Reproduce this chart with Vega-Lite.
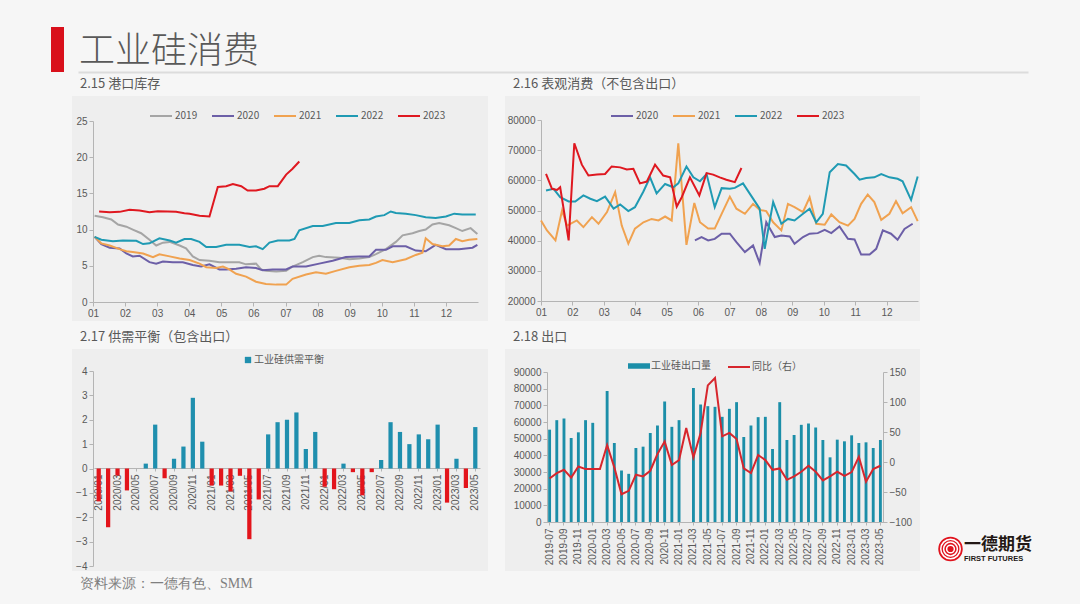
{
  "$schema": "https://vega.github.io/schema/vega-lite/v6.json",
  "background": "#f6f6f6",
  "padding": {"left": 51, "top": 27, "right": 47, "bottom": 12},
  "autosize": {"type": "pad"},
  "config": {
    "view": {"stroke": null},
    "font": "Noto Sans CJK SC",
    "axis": {"labelFont": "Liberation Sans", "labelFontSize": 10, "labelColor": "#595959", "domainColor": "#b4b4b4", "tickColor": "#b4b4b4", "grid": false, "tickSize": 4, "labelPadding": 2, "labelFlush": false},
    "legend": {"labelFont": "Noto Sans CJK SC", "labelFontSize": 10, "labelColor": "#595959"},
    "title": {"font": "Noto Sans CJK SC", "fontWeight": "normal", "color": "#595959", "anchor": "start"}
  },
  "datasets": {
    "port": [
      {"yr":"2019","m":1.05,"v":11.9},{"yr":"2019","m":1.31,"v":11.7},{"yr":"2019","m":1.57,"v":11.4},{"yr":"2019","m":1.78,"v":10.7},{"yr":"2019","m":2.04,"v":10.4},{"yr":"2019","m":2.24,"v":10.0},{"yr":"2019","m":2.5,"v":9.5},{"yr":"2019","m":2.76,"v":8.6},{"yr":"2019","m":2.97,"v":7.8},{"yr":"2019","m":3.18,"v":8.2},{"yr":"2019","m":3.39,"v":8.3},{"yr":"2019","m":3.7,"v":7.8},{"yr":"2019","m":3.9,"v":7.4},{"yr":"2019","m":4.11,"v":6.3},{"yr":"2019","m":4.32,"v":5.8},{"yr":"2019","m":4.63,"v":5.7},{"yr":"2019","m":4.94,"v":5.5},{"yr":"2019","m":5.25,"v":5.5},{"yr":"2019","m":5.56,"v":5.5},{"yr":"2019","m":5.77,"v":5.2},{"yr":"2019","m":6.08,"v":5.3},{"yr":"2019","m":6.24,"v":4.5},{"yr":"2019","m":6.39,"v":4.3},{"yr":"2019","m":6.71,"v":4.2},{"yr":"2019","m":7.02,"v":4.3},{"yr":"2019","m":7.22,"v":4.9},{"yr":"2019","m":7.54,"v":5.5},{"yr":"2019","m":7.85,"v":6.2},{"yr":"2019","m":8.05,"v":6.4},{"yr":"2019","m":8.26,"v":6.2},{"yr":"2019","m":8.68,"v":6.1},{"yr":"2019","m":8.99,"v":5.9},{"yr":"2019","m":9.3,"v":6.0},{"yr":"2019","m":9.61,"v":6.2},{"yr":"2019","m":9.82,"v":6.6},{"yr":"2019","m":10.13,"v":7.3},{"yr":"2019","m":10.44,"v":8.3},{"yr":"2019","m":10.65,"v":9.2},{"yr":"2019","m":10.96,"v":9.5},{"yr":"2019","m":11.17,"v":9.8},{"yr":"2019","m":11.37,"v":10.0},{"yr":"2019","m":11.58,"v":10.7},{"yr":"2019","m":11.79,"v":10.9},{"yr":"2019","m":12.1,"v":10.6},{"yr":"2019","m":12.31,"v":10.2},{"yr":"2019","m":12.51,"v":9.8},{"yr":"2019","m":12.77,"v":10.2},{"yr":"2019","m":12.98,"v":9.4},
      {"yr":"2020","m":1.05,"v":9.0},{"yr":"2020","m":1.26,"v":8.0},{"yr":"2020","m":1.52,"v":7.5},{"yr":"2020","m":1.83,"v":7.4},{"yr":"2020","m":2.04,"v":6.7},{"yr":"2020","m":2.24,"v":6.3},{"yr":"2020","m":2.45,"v":6.4},{"yr":"2020","m":2.76,"v":5.5},{"yr":"2020","m":2.97,"v":5.3},{"yr":"2020","m":3.18,"v":5.6},{"yr":"2020","m":3.49,"v":5.5},{"yr":"2020","m":3.8,"v":5.5},{"yr":"2020","m":4.11,"v":5.1},{"yr":"2020","m":4.37,"v":4.9},{"yr":"2020","m":4.63,"v":5.2},{"yr":"2020","m":4.94,"v":4.5},{"yr":"2020","m":5.15,"v":4.5},{"yr":"2020","m":5.46,"v":4.6},{"yr":"2020","m":5.77,"v":4.8},{"yr":"2020","m":6.08,"v":4.7},{"yr":"2020","m":6.29,"v":4.4},{"yr":"2020","m":6.6,"v":4.5},{"yr":"2020","m":7.02,"v":4.5},{"yr":"2020","m":7.22,"v":4.9},{"yr":"2020","m":7.64,"v":4.9},{"yr":"2020","m":8.05,"v":5.3},{"yr":"2020","m":8.47,"v":5.7},{"yr":"2020","m":8.88,"v":6.2},{"yr":"2020","m":9.3,"v":6.3},{"yr":"2020","m":9.61,"v":6.3},{"yr":"2020","m":9.82,"v":7.2},{"yr":"2020","m":10.13,"v":7.2},{"yr":"2020","m":10.34,"v":7.7},{"yr":"2020","m":10.75,"v":7.7},{"yr":"2020","m":11.06,"v":7.1},{"yr":"2020","m":11.37,"v":7.0},{"yr":"2020","m":11.68,"v":7.9},{"yr":"2020","m":12.0,"v":7.3},{"yr":"2020","m":12.41,"v":7.3},{"yr":"2020","m":12.83,"v":7.5},{"yr":"2020","m":12.98,"v":7.9},
      {"yr":"2021","m":1.05,"v":9.0},{"yr":"2021","m":1.26,"v":8.1},{"yr":"2021","m":1.52,"v":7.8},{"yr":"2021","m":1.83,"v":7.3},{"yr":"2021","m":2.04,"v":7.0},{"yr":"2021","m":2.24,"v":6.9},{"yr":"2021","m":2.56,"v":6.7},{"yr":"2021","m":2.87,"v":6.2},{"yr":"2021","m":3.07,"v":6.6},{"yr":"2021","m":3.39,"v":6.3},{"yr":"2021","m":3.7,"v":6.0},{"yr":"2021","m":4.01,"v":5.8},{"yr":"2021","m":4.32,"v":5.3},{"yr":"2021","m":4.53,"v":4.8},{"yr":"2021","m":4.84,"v":4.7},{"yr":"2021","m":5.05,"v":4.9},{"yr":"2021","m":5.25,"v":4.5},{"yr":"2021","m":5.46,"v":3.9},{"yr":"2021","m":5.77,"v":3.5},{"yr":"2021","m":6.08,"v":2.8},{"yr":"2021","m":6.39,"v":2.5},{"yr":"2021","m":6.71,"v":2.4},{"yr":"2021","m":7.02,"v":2.4},{"yr":"2021","m":7.22,"v":3.2},{"yr":"2021","m":7.64,"v":3.8},{"yr":"2021","m":7.95,"v":4.1},{"yr":"2021","m":8.26,"v":3.9},{"yr":"2021","m":8.57,"v":4.3},{"yr":"2021","m":8.99,"v":4.8},{"yr":"2021","m":9.3,"v":5.0},{"yr":"2021","m":9.61,"v":5.1},{"yr":"2021","m":9.82,"v":5.4},{"yr":"2021","m":10.02,"v":5.8},{"yr":"2021","m":10.34,"v":5.5},{"yr":"2021","m":10.75,"v":5.9},{"yr":"2021","m":11.06,"v":6.5},{"yr":"2021","m":11.27,"v":6.8},{"yr":"2021","m":11.37,"v":8.8},{"yr":"2021","m":11.58,"v":8.0},{"yr":"2021","m":11.89,"v":7.7},{"yr":"2021","m":12.1,"v":7.8},{"yr":"2021","m":12.31,"v":8.7},{"yr":"2021","m":12.51,"v":8.4},{"yr":"2021","m":12.72,"v":8.6},{"yr":"2021","m":12.98,"v":8.7},
      {"yr":"2022","m":1.05,"v":9.0},{"yr":"2022","m":1.26,"v":8.6},{"yr":"2022","m":1.62,"v":8.4},{"yr":"2022","m":1.93,"v":8.5},{"yr":"2022","m":2.35,"v":8.45},{"yr":"2022","m":2.56,"v":8.0},{"yr":"2022","m":2.76,"v":8.1},{"yr":"2022","m":3.07,"v":8.8},{"yr":"2022","m":3.39,"v":8.5},{"yr":"2022","m":3.59,"v":8.2},{"yr":"2022","m":3.85,"v":8.7},{"yr":"2022","m":4.06,"v":8.7},{"yr":"2022","m":4.32,"v":8.3},{"yr":"2022","m":4.53,"v":7.6},{"yr":"2022","m":4.84,"v":7.6},{"yr":"2022","m":5.15,"v":7.9},{"yr":"2022","m":5.56,"v":7.9},{"yr":"2022","m":5.88,"v":7.6},{"yr":"2022","m":6.08,"v":7.7},{"yr":"2022","m":6.29,"v":7.3},{"yr":"2022","m":6.5,"v":8.2},{"yr":"2022","m":6.76,"v":8.5},{"yr":"2022","m":7.12,"v":8.5},{"yr":"2022","m":7.28,"v":8.7},{"yr":"2022","m":7.43,"v":9.9},{"yr":"2022","m":7.85,"v":10.5},{"yr":"2022","m":8.16,"v":10.5},{"yr":"2022","m":8.57,"v":10.9},{"yr":"2022","m":8.99,"v":10.9},{"yr":"2022","m":9.3,"v":11.3},{"yr":"2022","m":9.61,"v":11.4},{"yr":"2022","m":9.82,"v":11.8},{"yr":"2022","m":10.08,"v":12.0},{"yr":"2022","m":10.28,"v":12.5},{"yr":"2022","m":10.44,"v":12.3},{"yr":"2022","m":10.75,"v":12.2},{"yr":"2022","m":11.06,"v":12.0},{"yr":"2022","m":11.37,"v":11.7},{"yr":"2022","m":11.68,"v":11.6},{"yr":"2022","m":12.0,"v":11.8},{"yr":"2022","m":12.26,"v":12.2},{"yr":"2022","m":12.51,"v":12.1},{"yr":"2022","m":12.93,"v":12.1},
      {"yr":"2023","m":1.19,"v":12.5},{"yr":"2023","m":1.52,"v":12.4},{"yr":"2023","m":1.83,"v":12.45},{"yr":"2023","m":2.14,"v":12.75},{"yr":"2023","m":2.45,"v":12.65},{"yr":"2023","m":2.76,"v":12.4},{"yr":"2023","m":3.02,"v":12.55},{"yr":"2023","m":3.33,"v":12.5},{"yr":"2023","m":3.59,"v":12.45},{"yr":"2023","m":3.85,"v":12.25},{"yr":"2023","m":4.01,"v":12.2},{"yr":"2023","m":4.32,"v":11.9},{"yr":"2023","m":4.63,"v":11.8},{"yr":"2023","m":4.89,"v":15.9},{"yr":"2023","m":5.15,"v":16.0},{"yr":"2023","m":5.36,"v":16.3},{"yr":"2023","m":5.62,"v":16.0},{"yr":"2023","m":5.82,"v":15.4},{"yr":"2023","m":6.08,"v":15.4},{"yr":"2023","m":6.34,"v":15.65},{"yr":"2023","m":6.5,"v":16.0},{"yr":"2023","m":6.76,"v":16.0},{"yr":"2023","m":7.02,"v":17.6},{"yr":"2023","m":7.22,"v":18.4},{"yr":"2023","m":7.43,"v":19.4}
    ],
    "cons": [
      {"yr":"2020","m":5.9,"v":40100},{"yr":"2020","m":6.11,"v":41200},{"yr":"2020","m":6.32,"v":40100},{"yr":"2020","m":6.53,"v":40600},{"yr":"2020","m":6.75,"v":42300},{"yr":"2020","m":7.01,"v":42300},{"yr":"2020","m":7.22,"v":39500},{"yr":"2020","m":7.49,"v":36200},{"yr":"2020","m":7.75,"v":38400},{"yr":"2020","m":7.96,"v":32600},{"yr":"2020","m":8.17,"v":46100},{"yr":"2020","m":8.44,"v":41200},{"yr":"2020","m":8.65,"v":41700},{"yr":"2020","m":8.92,"v":41400},{"yr":"2020","m":9.07,"v":39000},{"yr":"2020","m":9.34,"v":41200},{"yr":"2020","m":9.55,"v":42300},{"yr":"2020","m":9.81,"v":42500},{"yr":"2020","m":10.03,"v":43600},{"yr":"2020","m":10.24,"v":42500},{"yr":"2020","m":10.5,"v":44700},{"yr":"2020","m":10.77,"v":40600},{"yr":"2020","m":10.98,"v":40400},{"yr":"2020","m":11.19,"v":35400},{"yr":"2020","m":11.46,"v":35400},{"yr":"2020","m":11.67,"v":37300},{"yr":"2020","m":11.88,"v":43400},{"yr":"2020","m":12.14,"v":42300},{"yr":"2020","m":12.35,"v":40300},{"yr":"2020","m":12.57,"v":43900},{"yr":"2020","m":12.83,"v":45600},
      {"yr":"2021","m":1.0,"v":46700},{"yr":"2021","m":1.19,"v":43400},{"yr":"2021","m":1.46,"v":40100},{"yr":"2021","m":1.67,"v":50000},{"yr":"2021","m":1.83,"v":45000},{"yr":"2021","m":2.14,"v":46700},{"yr":"2021","m":2.35,"v":44500},{"yr":"2021","m":2.62,"v":47800},{"yr":"2021","m":2.83,"v":45600},{"yr":"2021","m":3.1,"v":49500},{"yr":"2021","m":3.36,"v":56100},{"yr":"2021","m":3.57,"v":45000},{"yr":"2021","m":3.78,"v":39000},{"yr":"2021","m":3.99,"v":44000},{"yr":"2021","m":4.26,"v":46100},{"yr":"2021","m":4.52,"v":47200},{"yr":"2021","m":4.74,"v":46700},{"yr":"2021","m":4.95,"v":48000},{"yr":"2021","m":5.16,"v":46700},{"yr":"2021","m":5.37,"v":72300},{"yr":"2021","m":5.63,"v":38600},{"yr":"2021","m":5.88,"v":52500},{"yr":"2021","m":6.06,"v":46100},{"yr":"2021","m":6.32,"v":44000},{"yr":"2021","m":6.53,"v":44000},{"yr":"2021","m":6.75,"v":48900},{"yr":"2021","m":7.01,"v":54600},{"yr":"2021","m":7.22,"v":50600},{"yr":"2021","m":7.49,"v":48900},{"yr":"2021","m":7.75,"v":52200},{"yr":"2021","m":7.96,"v":50200},{"yr":"2021","m":8.17,"v":49800},{"yr":"2021","m":8.39,"v":46100},{"yr":"2021","m":8.65,"v":43400},{"yr":"2021","m":8.86,"v":52200},{"yr":"2021","m":9.07,"v":51100},{"yr":"2021","m":9.34,"v":49500},{"yr":"2021","m":9.55,"v":54400},{"yr":"2021","m":9.76,"v":45600},{"yr":"2021","m":10.03,"v":45300},{"yr":"2021","m":10.24,"v":48700},{"yr":"2021","m":10.5,"v":46100},{"yr":"2021","m":10.77,"v":45000},{"yr":"2021","m":10.98,"v":47200},{"yr":"2021","m":11.19,"v":52200},{"yr":"2021","m":11.4,"v":55300},{"yr":"2021","m":11.61,"v":52800},{"yr":"2021","m":11.83,"v":46900},{"yr":"2021","m":12.09,"v":48900},{"yr":"2021","m":12.3,"v":53100},{"yr":"2021","m":12.51,"v":49100},{"yr":"2021","m":12.78,"v":51100},{"yr":"2021","m":12.99,"v":46500},
      {"yr":"2022","m":1.16,"v":56600},{"yr":"2022","m":1.4,"v":57200},{"yr":"2022","m":1.61,"v":54400},{"yr":"2022","m":1.88,"v":53000},{"yr":"2022","m":2.09,"v":53000},{"yr":"2022","m":2.35,"v":55000},{"yr":"2022","m":2.57,"v":53900},{"yr":"2022","m":2.78,"v":53100},{"yr":"2022","m":3.04,"v":54600},{"yr":"2022","m":3.31,"v":50600},{"yr":"2022","m":3.52,"v":52000},{"yr":"2022","m":3.78,"v":49800},{"yr":"2022","m":3.99,"v":51100},{"yr":"2022","m":4.26,"v":56300},{"yr":"2022","m":4.47,"v":61000},{"yr":"2022","m":4.68,"v":55700},{"yr":"2022","m":4.95,"v":58800},{"yr":"2022","m":5.21,"v":57700},{"yr":"2022","m":5.37,"v":59000},{"yr":"2022","m":5.63,"v":64600},{"yr":"2022","m":5.85,"v":61000},{"yr":"2022","m":6.06,"v":59700},{"yr":"2022","m":6.27,"v":62100},{"yr":"2022","m":6.53,"v":51100},{"yr":"2022","m":6.75,"v":57400},{"yr":"2022","m":7.01,"v":57200},{"yr":"2022","m":7.17,"v":57500},{"yr":"2022","m":7.43,"v":59000},{"yr":"2022","m":7.65,"v":55500},{"yr":"2022","m":7.86,"v":52200},{"yr":"2022","m":7.96,"v":50600},{"yr":"2022","m":8.12,"v":37300},{"yr":"2022","m":8.39,"v":52800},{"yr":"2022","m":8.65,"v":45600},{"yr":"2022","m":8.86,"v":47200},{"yr":"2022","m":9.07,"v":46700},{"yr":"2022","m":9.34,"v":48900},{"yr":"2022","m":9.55,"v":50600},{"yr":"2022","m":9.76,"v":46100},{"yr":"2022","m":9.97,"v":48900},{"yr":"2022","m":10.19,"v":62700},{"yr":"2022","m":10.45,"v":65400},{"yr":"2022","m":10.71,"v":64900},{"yr":"2022","m":10.98,"v":62100},{"yr":"2022","m":11.14,"v":60200},{"yr":"2022","m":11.35,"v":60800},{"yr":"2022","m":11.61,"v":61000},{"yr":"2022","m":11.83,"v":62100},{"yr":"2022","m":12.09,"v":61000},{"yr":"2022","m":12.35,"v":60500},{"yr":"2022","m":12.51,"v":59700},{"yr":"2022","m":12.78,"v":53500},{"yr":"2022","m":12.99,"v":61300},
      {"yr":"2023","m":1.16,"v":62100},{"yr":"2023","m":1.35,"v":57200},{"yr":"2023","m":1.51,"v":56800},{"yr":"2023","m":1.61,"v":57700},{"yr":"2023","m":1.88,"v":40100},{"yr":"2023","m":2.06,"v":72300},{"yr":"2023","m":2.3,"v":65200},{"yr":"2023","m":2.51,"v":61600},{"yr":"2023","m":2.78,"v":61900},{"yr":"2023","m":3.04,"v":62100},{"yr":"2023","m":3.25,"v":64600},{"yr":"2023","m":3.52,"v":64300},{"yr":"2023","m":3.73,"v":63600},{"yr":"2023","m":3.94,"v":63800},{"yr":"2023","m":4.15,"v":59000},{"yr":"2023","m":4.37,"v":59600},{"yr":"2023","m":4.63,"v":65200},{"yr":"2023","m":4.89,"v":61600},{"yr":"2023","m":5.11,"v":61000},{"yr":"2023","m":5.32,"v":51300},{"yr":"2023","m":5.48,"v":54400},{"yr":"2023","m":5.74,"v":61000},{"yr":"2023","m":6.04,"v":55000},{"yr":"2023","m":6.27,"v":62400},{"yr":"2023","m":6.48,"v":61900},{"yr":"2023","m":6.69,"v":61000},{"yr":"2023","m":6.9,"v":60200},{"yr":"2023","m":7.17,"v":59400},{"yr":"2023","m":7.38,"v":64100}
    ],
    "balance": [
      {"mon":"2020/01","v":-1.35},{"mon":"2020/02","v":-2.41},{"mon":"2020/03","v":-0.29},{"mon":"2020/04","v":-0.9},{"mon":"2020/05","v":0},{"mon":"2020/06","v":0.2},{"mon":"2020/07","v":1.8},{"mon":"2020/08","v":-0.4},{"mon":"2020/09","v":0.4},{"mon":"2020/10","v":0.9},{"mon":"2020/11","v":2.9},{"mon":"2020/12","v":1.1},
      {"mon":"2021/01","v":-0.7},{"mon":"2021/02","v":-0.7},{"mon":"2021/03","v":-0.94},{"mon":"2021/04","v":-0.3},{"mon":"2021/05","v":-2.9},{"mon":"2021/06","v":-1.27},{"mon":"2021/07","v":1.4},{"mon":"2021/08","v":1.9},{"mon":"2021/09","v":2.0},{"mon":"2021/10","v":2.3},{"mon":"2021/11","v":0.8},{"mon":"2021/12","v":1.5},
      {"mon":"2022/01","v":-0.75},{"mon":"2022/02","v":-0.85},{"mon":"2022/03","v":0.2},{"mon":"2022/04","v":-0.15},{"mon":"2022/05","v":-1.1},{"mon":"2022/06","v":-0.15},{"mon":"2022/07","v":0.35},{"mon":"2022/08","v":1.9},{"mon":"2022/09","v":1.5},{"mon":"2022/10","v":1.0},{"mon":"2022/11","v":1.4},{"mon":"2022/12","v":1.2},
      {"mon":"2023/01","v":1.8},{"mon":"2023/02","v":-1.4},{"mon":"2023/03","v":0.4},{"mon":"2023/04","v":-0.8},{"mon":"2023/05","v":1.7}
    ],
    "export": [
      {"mon":"2019-07","q":55400,"yoy":-27.5},{"mon":"2019-08","q":61100,"yoy":-18.5},{"mon":"2019-09","q":62100,"yoy":-13},{"mon":"2019-10","q":50400,"yoy":-26},{"mon":"2019-11","q":53800,"yoy":-7.4},{"mon":"2019-12","q":61100,"yoy":-11.8},
      {"mon":"2020-01","q":59500,"yoy":-11.8},{"mon":"2020-02","q":null,"yoy":-11.8},{"mon":"2020-03","q":78600,"yoy":28.3},{"mon":"2020-04","q":47400,"yoy":-9},{"mon":"2020-05","q":30900,"yoy":-53.7},{"mon":"2020-06","q":28900,"yoy":-48},{"mon":"2020-07","q":44400,"yoy":-21.3},{"mon":"2020-08","q":45200,"yoy":-24},{"mon":"2020-09","q":53400,"yoy":-14.6},{"mon":"2020-10","q":57900,"yoy":13.3},{"mon":"2020-11","q":72300,"yoy":34},{"mon":"2020-12","q":57100,"yoy":-5},
      {"mon":"2021-01","q":61100,"yoy":3.2},{"mon":"2021-02","q":null,"yoy":56.8},{"mon":"2021-03","q":80400,"yoy":7.7},{"mon":"2021-04","q":70500,"yoy":48.4},{"mon":"2021-05","q":69500,"yoy":127.7},{"mon":"2021-06","q":69100,"yoy":140},{"mon":"2021-07","q":63100,"yoy":42.8},{"mon":"2021-08","q":67900,"yoy":48.4},{"mon":"2021-09","q":71900,"yoy":38.4},{"mon":"2021-10","q":51000,"yoy":-10.7},{"mon":"2021-11","q":57900,"yoy":-18.5},{"mon":"2021-12","q":62900,"yoy":11.6},
      {"mon":"2022-01","q":63100,"yoy":3.2},{"mon":"2022-02","q":43800,"yoy":-13},{"mon":"2022-03","q":71900,"yoy":-10.7},{"mon":"2022-04","q":49200,"yoy":-29.7},{"mon":"2022-05","q":52200,"yoy":-24},{"mon":"2022-06","q":58300,"yoy":-16.3},{"mon":"2022-07","q":59100,"yoy":-6.3},{"mon":"2022-08","q":56700,"yoy":-16.3},{"mon":"2022-09","q":49200,"yoy":-30.8},{"mon":"2022-10","q":38800,"yoy":-24},{"mon":"2022-11","q":49400,"yoy":-16.3},{"mon":"2022-12","q":48400,"yoy":-23},
      {"mon":"2023-01","q":52000,"yoy":-16.8},{"mon":"2023-02","q":47400,"yoy":8.8},{"mon":"2023-03","q":47800,"yoy":-33},{"mon":"2023-04","q":44400,"yoy":-11.8},{"mon":"2023-05","q":49200,"yoy":-6.3}
    ]
  },
  "spacing": 6,
  "resolve": {"scale": {"color": "independent", "fill": "independent", "stroke": "independent"}, "legend": {"color": "independent", "fill": "independent", "stroke": "independent"}},
  "vconcat": [
    {
      "spacing": 14,
      "hconcat": [
        {"width": 13, "height": 45, "data": {"values": []}, "mark": "point", "view": {"fill": "#d9101b", "stroke": null}},
        {"width": 950, "height": 45, "data": {"values": []}, "mark": "point",
         "encoding": {"x": {"field": "k", "type": "quantitative", "scale": {"domain": [0, 1]},
                            "axis": {"title": null, "labels": false, "ticks": false, "domainColor": "#dcdcdc", "domainWidth": 2}}},
         "title": {"text": "工业硅消费", "anchor": "start", "fontSize": 36, "fontWeight": 300, "color": "#595959", "offset": -44, "dx": 1}}
      ]
    },
    {
      "spacing": 10,
      "resolve": {"scale": {"color": "independent", "fill": "independent", "stroke": "independent"}, "legend": {"color": "independent", "fill": "independent", "stroke": "independent"}},
      "vconcat": [
        {
          "spacing": 17,
          "resolve": {"scale": {"color": "independent"}, "legend": {"color": "independent"}},
          "hconcat": [
            {"width": 4, "height": 1, "data": {"values": []}, "mark": "point"},
            {
              "width": 416, "height": 225,
              "view": {"fill": "#eeeeee"},
              "title": {"text": "2.15 港口库存", "fontSize": 13, "dx": 8, "offset": 5},
              "data": {"name": "port"},
              "mark": {"type": "line", "strokeWidth": 2},
              "encoding": {
                "x": {"field": "m", "type": "quantitative",
                      "scale": {"domain": [1, 13], "range": [21, 406], "nice": false, "zero": false},
                      "axis": {"title": null, "values": [1,2,3,4,5,6,7,8,9,10,11,12], "labelExpr": "datum.value < 10 ? '0' + datum.value : '' + datum.value", "offset": -19}},
                "y": {"field": "v", "type": "quantitative",
                      "scale": {"domain": [0, 25], "range": [206, 25], "nice": false},
                      "axis": {"title": null, "values": [0,5,10,15,20,25], "offset": -21}},
                "color": {"field": "yr", "type": "nominal",
                          "scale": {"domain": ["2019","2020","2021","2022","2023"], "range": ["#a5a5a5","#6c5fa7","#f0a250","#1f9ab3","#df1820"]},
                          "legend": {"title": null, "orient": "none", "direction": "horizontal", "legendX": 77, "legendY": 8, "symbolType": "stroke", "symbolSize": 484, "symbolStrokeWidth": 2, "labelOffset": 2, "columnPadding": 10}}
              }
            },
            {
              "width": 415, "height": 225,
              "view": {"fill": "#eeeeee"},
              "title": {"text": "2.16 表观消费（不包含出口）", "fontSize": 13, "dx": 8, "offset": 5},
              "data": {"name": "cons"},
              "mark": {"type": "line", "strokeWidth": 2},
              "encoding": {
                "x": {"field": "m", "type": "quantitative",
                      "scale": {"domain": [1, 13], "range": [36, 413], "nice": false, "zero": false},
                      "axis": {"title": null, "values": [1,2,3,4,5,6,7,8,9,10,11,12], "labelExpr": "datum.value < 10 ? '0' + datum.value : '' + datum.value", "offset": -20}},
                "y": {"field": "v", "type": "quantitative",
                      "scale": {"domain": [20000, 80000], "range": [205, 24], "nice": false, "zero": false},
                      "axis": {"title": null, "values": [20000,30000,40000,50000,60000,70000,80000], "format": "d", "offset": -36}},
                "color": {"field": "yr", "type": "nominal",
                          "scale": {"domain": ["2020","2021","2022","2023"], "range": ["#6c5fa7","#f0a250","#1f9ab3","#df1820"]},
                          "legend": {"title": null, "orient": "none", "direction": "horizontal", "legendX": 105, "legendY": 8, "symbolType": "stroke", "symbolSize": 484, "symbolStrokeWidth": 2, "labelOffset": 2, "columnPadding": 10}}
              }
            }
          ]
        },
        {
          "spacing": 17,
          "resolve": {"scale": {"color": "independent", "fill": "independent", "stroke": "independent"}, "legend": {"color": "independent", "fill": "independent", "stroke": "independent"}},
          "hconcat": [
            {"width": 4, "height": 1, "data": {"values": []}, "mark": "point"},
            {
              "width": 416, "height": 222,
              "view": {"fill": "#eeeeee"},
              "title": {"text": "2.17 供需平衡（包含出口）", "fontSize": 13, "dx": 8, "offset": 5},
              "data": {"name": "balance"},
              "mark": {"type": "bar"},
              "encoding": {
                "x": {"field": "mon", "type": "ordinal", "sort": "ascending",
                      "scale": {"range": [22, 408], "paddingInner": 0.55, "paddingOuter": 0.275},
                      "axis": {"title": null, "labelAngle": -90, "labelOverlap": false, "offset": -103, "tickSize": 3, "labelPadding": 3,
                               "values": ["2020/01","2020/03","2020/05","2020/07","2020/09","2020/11","2021/01","2021/03","2021/05","2021/07","2021/09","2021/11","2022/01","2022/03","2022/05","2022/07","2022/09","2022/11","2023/01","2023/03","2023/05"]}},
                "y": {"field": "v", "type": "quantitative",
                      "scale": {"domain": [-4, 4], "range": [217, 22], "nice": false, "zero": false},
                      "axis": {"title": null, "values": [-4,-3,-2,-1,0,1,2,3,4], "offset": -21}},
                "color": {"condition": {"test": "datum.v < 0", "value": "#e3141b"},
                          "datum": "工业硅供需平衡", "type": "nominal",
                          "scale": {"range": ["#1f8fae"]},
                          "legend": {"title": null, "orient": "none", "legendX": 171, "legendY": 6, "symbolType": "square", "symbolSize": 40, "labelOffset": 1}}
              }
            },
            {
              "width": 415, "height": 222,
              "view": {"fill": "#eeeeee"},
              "title": {"text": "2.18 出口", "fontSize": 13, "dx": 8, "offset": 5},
              "data": {"name": "export"},
              "encoding": {
                "x": {"field": "mon", "type": "ordinal", "sort": "ascending",
                      "scale": {"range": [41, 379], "paddingInner": 0.6, "paddingOuter": 0.3},
                      "axis": {"title": null, "labelAngle": -90, "labelOverlap": false, "offset": -49, "tickSize": 3, "labelPadding": 3,
                               "values": ["2019-07","2019-09","2019-11","2020-01","2020-03","2020-05","2020-07","2020-09","2020-11","2021-01","2021-03","2021-05","2021-07","2021-09","2021-11","2022-01","2022-03","2022-05","2022-07","2022-09","2022-11","2023-01","2023-03","2023-05"]}}
              },
              "layer": [
                {
                  "mark": {"type": "bar"},
                  "encoding": {
                    "y": {"field": "q", "type": "quantitative",
                          "scale": {"domain": [0, 90000], "range": [173, 23], "nice": false},
                          "axis": {"title": null, "orient": "left", "values": [0,10000,20000,30000,40000,50000,60000,70000,80000,90000], "format": "d", "offset": -42}},
                    "fill": {"datum": "工业硅出口量", "type": "nominal", "scale": {"range": ["#1b8ea8"]},
                             "legend": {"title": null, "orient": "none", "legendX": 123, "legendY": 6, "symbolType": "M-1,-0.25L1,-0.25L1,0.25L-1,0.25Z", "symbolSize": 484, "symbolStrokeWidth": 0, "labelOffset": 1}}
                  }
                },
                {
                  "mark": {"type": "line", "strokeWidth": 2},
                  "encoding": {
                    "y": {"field": "yoy", "type": "quantitative",
                          "scale": {"domain": [-100, 150], "range": [173, 23], "nice": false, "zero": false},
                          "axis": {"title": null, "orient": "right", "values": [-100,-50,0,50,100,150], "offset": -37}},
                    "stroke": {"datum": "同比（右）", "type": "nominal", "scale": {"range": ["#d7262d"]},
                               "legend": {"title": null, "orient": "none", "legendX": 222, "legendY": 6, "symbolType": "stroke", "symbolSize": 484, "symbolStrokeWidth": 2, "labelOffset": 1}}
                  }
                }
              ],
              "resolve": {"scale": {"y": "independent"}}
            },
            {
              "spacing": 0,
              "vconcat": [
                {"width": 97, "height": 187, "data": {"values": []}, "mark": "point"},
                {
                  "spacing": 0,
                  "hconcat": [
                    {"width": 25, "height": 26, "data": {"values": [{"k": "logo"}]},
                     "layer": [
                       {"mark": {"type": "point", "shape": "circle", "size": 600, "filled": true, "color": "#e0141e", "opacity": 1}, "encoding": {}},
                       {"mark": {"type": "point", "shape": "circle", "size": 380, "filled": false, "stroke": "#ffffff", "strokeWidth": 1.5, "opacity": 1}, "encoding": {}},
                       {"mark": {"type": "point", "shape": "circle", "size": 190, "filled": false, "stroke": "#ffffff", "strokeWidth": 1.5, "opacity": 1}, "encoding": {}},
                       {"mark": {"type": "point", "shape": "circle", "size": 60, "filled": false, "stroke": "#ffffff", "strokeWidth": 1.5, "opacity": 1}, "encoding": {}}
                     ]},
                    {"width": 70, "height": 1, "data": {"values": []}, "mark": "point",
                     "title": {"text": "一德期货", "subtitle": "FIRST FUTURES", "orient": "bottom", "anchor": "start", "fontSize": 17, "fontWeight": "bold", "color": "#231815", "subtitleFont": "Liberation Sans", "subtitleFontSize": 7.5, "subtitleFontWeight": "bold", "subtitleColor": "#231815", "subtitlePadding": 1, "offset": 0}}
                  ]
                }
              ]
            }
          ]
        }
      ]
    },
    {"width": 300, "height": 1, "data": {"values": []}, "mark": "point",
     "title": {"text": "资料来源：一德有色、SMM", "anchor": "start", "dx": 29, "fontSize": 14, "font": "Liberation Serif", "color": "#7f7f7f", "offset": 0}}
  ]
}
